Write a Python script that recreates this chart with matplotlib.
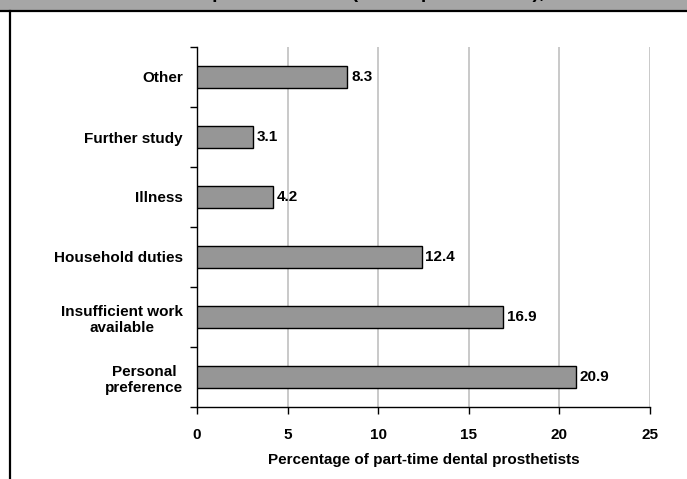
import numpy as np
import matplotlib.pyplot as plt
from matplotlib.ticker import FixedLocator

plt.rcParams['font.family'] = ['Liberation Sans', 'DejaVu Sans']
plt.rcParams['font.weight'] = 'bold'

# data, bottom to top
reasons = ["Personal\npreference", "Insufficient work\navailable", "Household duties",
           "Illness", "Further study", "Other"]
percent = [20.9, 16.9, 12.4, 4.2, 3.1, 8.3]
xticks = [0, 5, 10, 15, 20, 25]

fig = plt.figure(figsize=(6.87, 4.79), dpi=100)
ax = fig.add_axes([197/687, 1-407/479, 453/687, 360/479])

y = np.arange(len(reasons))
ax.barh(y, percent, height=0.36, color='#969696', edgecolor='black', linewidth=1, zorder=3)
for yi, v in zip(y, percent):
    ax.text(v + 0.2, yi, f"{v:.1f}", va='center', ha='left', fontsize=11, fontweight='bold', zorder=4)

ax.set_xlim(0, 25)
ax.set_ylim(-0.5, len(reasons) - 0.5)
ax.set_xticks(xticks)
ax.set_xticklabels([str(t) for t in xticks], fontsize=11, fontweight='bold')
ax.set_yticks(y)
ax.set_yticklabels(reasons, fontsize=11, fontweight='bold', multialignment='center')
ax.yaxis.set_minor_locator(FixedLocator(np.arange(-0.5, len(reasons), 1.0)))
ax.tick_params(axis='y', which='major', length=0, pad=10)
ax.tick_params(axis='y', which='minor', length=5, width=1, direction='out')
ax.tick_params(axis='x', which='major', length=5, width=1, direction='out', pad=10)
ax.xaxis.grid(True, color='#c0c0c0', linewidth=1.2, zorder=0)
for s in ['top', 'right']:
    ax.spines[s].set_visible(False)
ax.spines['left'].set_linewidth(1)
ax.spines['bottom'].set_linewidth(1)
ax.set_xlabel("Percentage of part-time dental prosthetists", fontsize=11, fontweight='bold', labelpad=8)

# header band (title cut off at the top edge, as in the source) and frame lines
fig.patches.append(plt.Rectangle((0, 1-10/479), 1, 10/479, transform=fig.transFigure,
                                 facecolor='#a6a6a6', edgecolor='none', zorder=0))
fig.lines.append(plt.Line2D([0, 1], [1-11/479, 1-11/479], transform=fig.transFigure,
                            color='black', linewidth=1.6))
fig.lines.append(plt.Line2D([10/687, 10/687], [0, 1-11/479], transform=fig.transFigure,
                            color='black', linewidth=1.6))
fig.text(0.5, 1+2/479, "Reasons for part-time work (dental prosthetists), 2003",
         ha='center', va='baseline', fontsize=14, fontweight='bold')

fig.savefig("out.png", dpi=100)
